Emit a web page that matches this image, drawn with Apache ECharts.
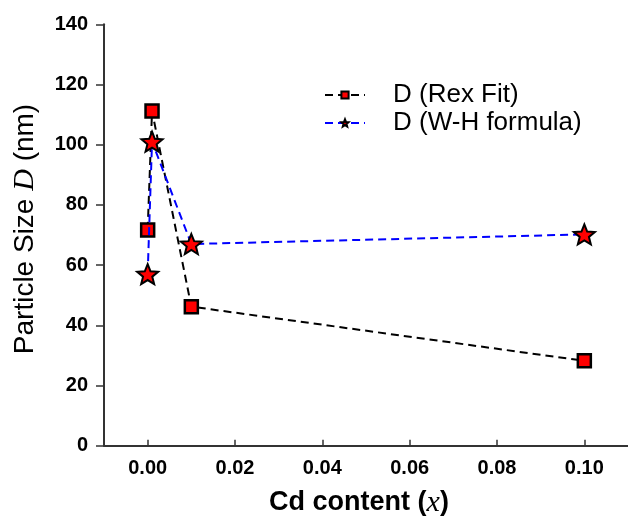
<!DOCTYPE html>
<html>
<head>
<meta charset="utf-8">
<script src="https://cdn.jsdelivr.net/npm/echarts@6/dist/echarts.min.js"></script>
<style>html,body{margin:0;padding:0;background:#fff}#c{width:628px;height:516px}</style>
</head>
<body>
<div id="c"></div>
<script>
var cdContent = [0, 0.001, 0.01, 0.1];
var rexFit = [71.7, 111.2, 46.2, 28.2];
var whFormula = [57.0, 101.0, 67.0, 70.2];
var xTicks = [0, 0.02, 0.04, 0.06, 0.08, 0.10];
var seriesNames = ['D (Rex Fit)', 'D (W-H formula)'];

var STAR = 'path://M50,0 L62.93,32.2 L97.55,34.55 L70.92,56.8 L79.39,90.45 L50,72 L20.61,90.45 L29.08,56.8 L2.45,34.55 L37.07,32.2 Z';
var SANS = 'Arial, "Liberation Sans", sans-serif';
var SERIF = '"Times New Roman", "Liberation Serif", serif';

function pairs(xs, ys) { return xs.map(function (x, i) { return [x, ys[i]]; }); }

var chart = echarts.init(document.getElementById('c'), null, { renderer: 'canvas' });
chart.setOption({
  animation: false,
  backgroundColor: '#fff',
  grid: { left: 104, right: 0, top: 24.3, bottom: 70.3, containLabel: false, outerBoundsMode: 'none' },
  legend: {
    orient: 'vertical',
    left: 319, top: 76,
    itemWidth: 40, itemHeight: 9, itemGap: 0,
    textStyle: { fontFamily: SANS, fontSize: 26, color: '#000', lineHeight: 28, padding: [0, 0, 0, 23] },
    data: seriesNames
  },
  xAxis: {
    type: 'value', min: -0.01, max: 0.11,
    axisLine: { show: true, onZero: false, lineStyle: { color: '#333', width: 2 } },
    axisTick: { show: true, inside: true, length: 6, customValues: xTicks, lineStyle: { color: '#333', width: 1.5 } },
    axisLabel: { show: true, customValues: xTicks, margin: 13, fontFamily: SANS, fontWeight: 'bold', fontSize: 20, color: '#000',
      formatter: function (v) { return v.toFixed(2); } },
    splitLine: { show: false },
    name: '{a|Cd content (}{b|x}{a|)}',
    nameLocation: 'middle', nameGap: 42,
    nameTextStyle: { padding: [0, 14, 0, 0], rich: {
      a: { fontFamily: SANS, fontWeight: 'bold', fontSize: 27, color: '#000' },
      b: { fontFamily: SERIF, fontStyle: 'italic', fontSize: 30, color: '#000' } } }
  },
  yAxis: {
    type: 'value', min: 0, max: 140, interval: 20,
    axisLine: { show: true, onZero: false, lineStyle: { color: '#333', width: 2 } },
    axisTick: { show: true, inside: false, length: 8, lineStyle: { color: '#333', width: 1.5 } },
    axisLabel: { show: true, margin: 16, fontFamily: SANS, fontWeight: 'bold', fontSize: 20, color: '#000' },
    splitLine: { show: false },
    name: '{a|Particle Size }{b|D}{a| (nm)}',
    nameLocation: 'middle', nameRotate: 90, nameGap: 64,
    nameTextStyle: { padding: [0, 0, 0, 12], rich: {
      a: { fontFamily: SANS, fontSize: 28, color: '#000' },
      b: { fontFamily: SERIF, fontStyle: 'italic', fontSize: 30, color: '#000' } } }
  },
  series: [
    {
      name: seriesNames[0], type: 'line', data: pairs(cdContent, rexFit),
      symbol: 'rect', symbolSize: 13,
      itemStyle: { color: '#ff0000', borderColor: '#000', borderWidth: 2.5 },
      lineStyle: { color: '#000', width: 2, type: [8, 5] },
      color: '#000', z: 2
    },
    {
      name: seriesNames[1], type: 'line', data: pairs(cdContent, whFormula),
      symbol: STAR, symbolSize: 21, symbolKeepAspect: true,
      itemStyle: { color: '#ff0000', borderColor: '#000', borderWidth: 2 },
      lineStyle: { color: '#0000ff', width: 2, type: [8, 5] },
      color: '#0000ff', z: 3
    }
  ]
});
</script>
</body>
</html>
